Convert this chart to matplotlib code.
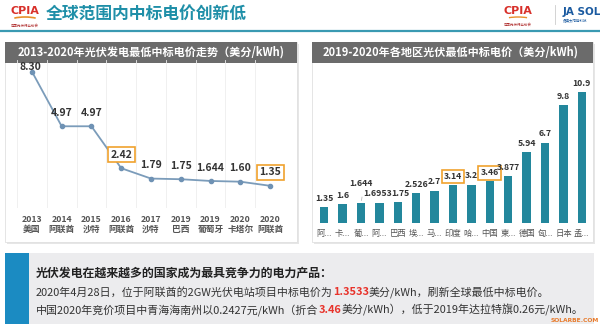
import matplotlib
matplotlib.use("Agg")
import matplotlib.pyplot as plt
from matplotlib.patches import Rectangle, Arc

plt.rcParams['font.family'] = ['Noto Sans CJK SC', 'DejaVu Sans']

# Left chart: lowest winning bid by year
years = ["2013", "2014", "2015", "2016", "2017", "2019", "2019", "2020", "2020"]
places = ["美国", "阿联酋", "沙特", "阿联酋", "沙特", "巴西", "葡萄牙", "卡塔尔", "阿联酋"]
trend_vals = [8.30, 4.97, 4.97, 2.42, 1.79, 1.75, 1.644, 1.60, 1.35]
trend_text = ["8.30", "4.97", "4.97", "2.42", "1.79", "1.75", "1.644", "1.60", "1.35"]
trend_boxed = [3, 8]

# Right chart: lowest bid by region
regions = ["阿...", "卡...", "葡...", "阿...", "巴西", "埃...", "马...", "印度", "哈...",
           "中国", "柬...", "德国", "匈...", "日本", "孟..."]
region_vals = [1.35, 1.6, 1.644, 1.6953, 1.75, 2.526, 2.7, 3.14, 3.2, 3.46, 3.877,
               5.94, 6.7, 9.8, 10.9]
region_boxed = [7, 9]

W, H = 600, 336
fig = plt.figure(figsize=(6, 3.36), dpi=100)
fig.patch.set_facecolor("white")

def px(x, y, w, h):
    return [x / W, 1 - (y + h) / H, w / W, h / H]

bg = fig.add_axes([0, 0, 1, 1])
bg.set_xlim(0, W)
bg.set_ylim(H, 0)
bg.axis("off")

TEAL = "#1f8fa8"
ORANGE = "#f0a22e"
RED = "#e8322a"
TXT = "#333333"

# header
bg.text(25, 11, "CPIA", color="#d8302a", fontsize=8, fontweight="bold", va="center",
        ha="center", family="DejaVu Sans")
bg.add_patch(Arc((25, 22), 34, 10, theta1=200, theta2=340, color="#e8902a", lw=1.2))
bg.text(25, 26, "中国光伏行业协会", fontsize=2.5, color="#b03030", ha="center", va="center")
bg.text(46, 15, "全球范围内中标电价创新低", color=TEAL, fontsize=12.1, fontweight="bold",
        va="center")
bg.text(518, 11, "CPIA", color="#d8302a", fontsize=8, fontweight="bold", va="center",
        ha="center", family="DejaVu Sans")
bg.add_patch(Arc((518, 21), 32, 8, theta1=200, theta2=340, color="#e8902a", lw=1.0))
bg.text(518, 25, "中国光伏行业协会", fontsize=2.5, color="#b03030", ha="center", va="center")
bg.plot([555, 555], [5, 24], color="#cccccc", lw=0.6)
bg.text(563, 12, "JA SOL", color="#1a5aa0", fontsize=7.5, fontweight="bold", va="center",
        family="DejaVu Sans")
bg.text(563, 20, "晶澳太阳能科技", color="#1a5aa0", fontsize=2.5, va="center")
bg.plot([0, W], [30.5, 30.5], color="#3a9ab2", lw=1.6)

# panels
for (x0, x1) in [(5, 297), (312, 593)]:
    bg.add_patch(Rectangle((x0 + 1.5, 42 + 1.5), x1 - x0, 200, facecolor="#e6e6e6",
                           edgecolor="none", zorder=0))
    bg.add_patch(Rectangle((x0, 42), x1 - x0, 200, facecolor="white",
                           edgecolor="#e0e0e0", lw=0.6, zorder=0.5))
    bg.add_patch(Rectangle((x0, 42), x1 - x0, 21, facecolor="#6b6b6b",
                           edgecolor="none", zorder=1))
bg.text(151, 52.5, "2013-2020年光伏发电最低中标电价走势（美分/kWh)", color="white",
        fontsize=8, fontweight="bold", ha="center", va="center", zorder=2)
bg.text(451, 52.5, "2019-2020年各地区光伏最低中标电价（美分/kWh)", color="white",
        fontsize=8, fontweight="bold", ha="center", va="center", zorder=2)

# left line chart
ax1 = fig.add_axes(px(17, 60, 268, 148))
ax1.patch.set_alpha(0)
xs = list(range(len(trend_vals)))
ax1.plot(xs, trend_vals, color="#7b9cba", lw=1.3, marker="o", ms=3,
         markerfacecolor="#6f92b4", markeredgecolor="#6f92b4", zorder=3)
for k in range(len(xs) + 1):
    ax1.axvline(k - 0.5, color="#eeeeee", lw=0.6, zorder=0)
ax1.set_xlim(-0.5, len(xs) - 0.5)
ax1.set_ylim(0, 9)
for k, (v, t) in enumerate(zip(trend_vals, trend_text)):
    box = None
    if k in trend_boxed:
        box = dict(boxstyle="square,pad=0.25", facecolor="white", edgecolor=ORANGE, lw=1.2)
    if k == 0:
        off, va = (-1, 3.2), "center"
    else:
        off, va = (0, 6), "bottom"
    ax1.annotate(t, (k, v), xytext=off, textcoords="offset points", ha="center",
                 va=va, fontsize=7.5, fontweight="bold", color=TXT,
                 bbox=box, zorder=4)
ax1.set_xticks(xs)
ax1.set_xticklabels([f"{y}\n{p}" for y, p in zip(years, places)], fontsize=6.3,
                    color="#555555", fontweight="bold", linespacing=1.1)
ax1.tick_params(axis="x", length=0, pad=5)
ax1.set_yticks([])
for s in ax1.spines.values():
    s.set_visible(False)

# right bar chart
ax2 = fig.add_axes(px(315, 79, 276, 144))
ax2.patch.set_alpha(0)
xb = list(range(len(region_vals)))
ax2.bar(xb, region_vals, width=0.45, color="#23879c", zorder=3)
ax2.set_xlim(-0.5, len(xb) - 0.5)
ax2.set_ylim(0, 12)
for k, v in enumerate(region_vals):
    box = None
    if k in region_boxed:
        box = dict(boxstyle="square,pad=0.25", facecolor="white", edgecolor=ORANGE, lw=1.2)
    dx, dy = 0, 3
    if k == 2:
        dy = 11
        ax2.annotate("", (k, v), xytext=(k + 0.08, v + 0.75),
                     arrowprops=dict(arrowstyle="-", color="#bbbbbb", lw=0.6))
    if k == 3:
        dx = -1.5
    if k == 4:
        dx = 1.5
    ax2.annotate(f"{v:g}", (k, v), xytext=(dx, dy), textcoords="offset points",
                 ha="center", va="bottom", fontsize=6.3, fontweight="bold",
                 color=TXT, bbox=box, zorder=4)
ax2.set_xticks(xb)
ax2.set_xticklabels(regions, fontsize=6, color="#555555")
ax2.tick_params(axis="x", length=0, pad=4)
ax2.set_yticks([])
for s in ax2.spines.values():
    s.set_visible(False)

# bottom note
bg.add_patch(Rectangle((5, 253), 589, 71, facecolor="#ececee", edgecolor="none"))
bg.add_patch(Rectangle((5, 253), 24, 71, facecolor="#1b8bc2", edgecolor="none"))
bg.text(36, 273, "光伏发电在越来越多的国家成为最具竞争力的电力产品：", fontsize=8.6,
        fontweight="bold", color="#222222", va="center")

fig.canvas.draw()
renderer = fig.canvas.get_renderer()

def run_line(x, y, parts):
    for text, color, weight in parts:
        t = bg.text(x, y, text, fontsize=7.9, color=color, fontweight=weight, va="center")
        bb = t.get_window_extent(renderer=renderer)
        x += bb.width * W / fig.bbox.width

run_line(36, 292, [("2020年4月28日，位于阿联酋的2GW光伏电站项目中标电价为", TXT, "normal"),
                   ("1.3533", RED, "bold"),
                   ("美分/kWh，刷新全球最低中标电价。", TXT, "normal")])
run_line(36, 310, [("中国2020年竞价项目中青海海南州以0.2427元/kWh（折合", TXT, "normal"),
                   ("3.46", RED, "bold"),
                   ("美分/kWh），低于2019年达拉特旗0.26元/kWh。", TXT, "normal")])
bg.text(599, 320, "SOLARBE.COM", fontsize=4.3, color="#e87a2a", ha="right", va="center",
        family="DejaVu Sans", fontweight="bold")

fig.savefig("out.png", dpi=100)
